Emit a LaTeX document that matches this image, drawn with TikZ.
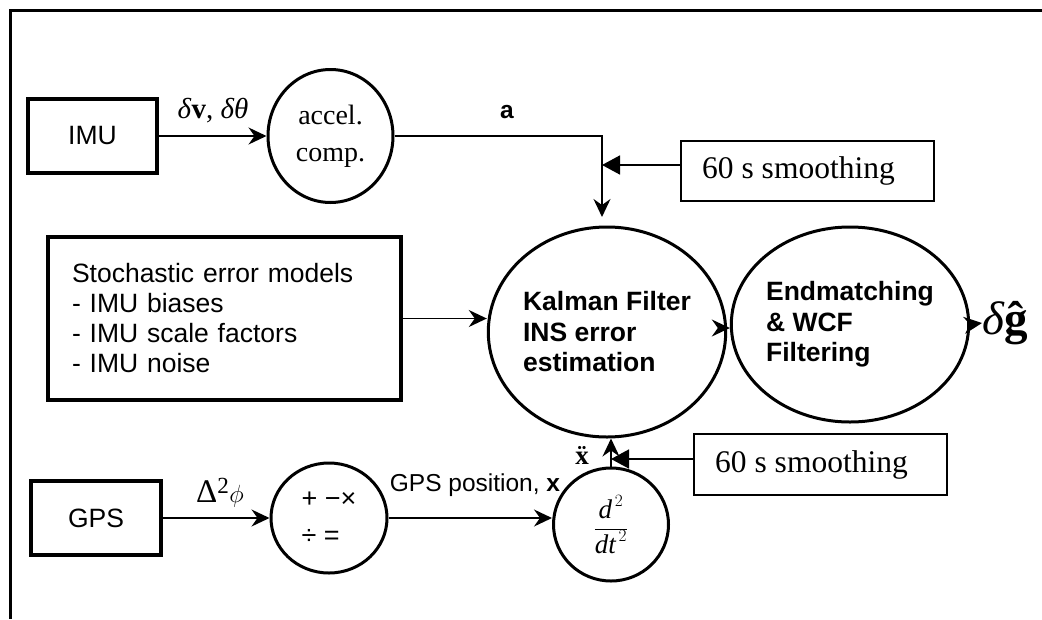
\documentclass[tikz,border=0pt]{standalone}
\usepackage{fontspec}
\setmainfont{Liberation Serif}
\setsansfont{Liberation Sans}
\usetikzlibrary{shapes.geometric,arrows.meta,calc}
\begin{document}
\begin{tikzpicture}[x=1pt,y=-1pt,
  boxA/.style={draw, line width=3.2pt, rectangle, inner sep=0pt, font=\sffamily\fontsize{26.5}{30}\selectfont},
  bub/.style={draw, line width=3pt, ellipse, inner sep=0pt},
  bubtxt/.style={font=\sffamily\bfseries\fontsize{26.5}{30.5}\selectfont, align=left},
  smoothbox/.style={draw, line width=1.8pt, rectangle, inner sep=0pt, minimum width=253pt, font=\fontsize{31.5}{36}\selectfont},
  conn/.style={line width=1.6pt},
  arr/.style={conn, -{Stealth[length=18pt,width=17pt,inset=6pt]}},
  tri/.style={conn, -{Triangle[length=18pt,width=19pt]}},
  lbl/.style={inner sep=0pt}
]
\useasboundingbox (0,0) rectangle (1042,619);
\draw[line width=3pt] (1042,10) -- (10,10) -- (10,619);

% nodes
\node[boxA, minimum width=129pt, minimum height=74pt] (imu) at (92.5,136) {IMU};
\node[bub, minimum width=125pt, minimum height=133pt, align=center, font=\fontsize{28}{37}\selectfont] (acc) at (330.5,136) {accel.\\comp.};
\node[boxA, minimum width=353pt, minimum height=163pt, align=left, text width=305pt] (stoch) at (224.5,318.5) {Stochastic error models\\- IMU biases\\- IMU scale factors\\- IMU noise};
\node[bub, bubtxt, minimum width=230pt, minimum height=210pt] (kal) at (607,332) {Kalman Filter\\INS error\\estimation};
\node[bub, bubtxt, minimum width=210pt, minimum height=195pt] (end) at (850,324.5) {Endmatching\\\& WCF\\Filtering};
\node[lbl, anchor=west, font=\fontsize{47}{47}\selectfont] (dg) at (982,323) {\textit{δ}\textbf{ĝ}};
\node[smoothbox, minimum height=60pt] (sm1) at (807.5,171) {60 s smoothing\hspace*{18pt}};
\node[smoothbox, minimum height=61pt] (sm2) at (820.5,464.5) {60 s smoothing\hspace*{18pt}};
\node[boxA, minimum width=130pt, minimum height=74pt] (gps) at (96,518) {GPS};
\node[bub, minimum width=116pt, minimum height=110pt, align=left, font=\sffamily\fontsize{27}{37}\selectfont] (ops) at (329,518) {+ −×\\÷ =};
\node[bub, minimum width=115pt, minimum height=113pt, font=\fontsize{27}{30}\selectfont] (d2) at (611,524.5) {$\displaystyle\frac{\mbox{\itshape d}^{\,2}}{\mbox{\itshape dt}^{\,2}}$};

% labels
\node[lbl, font=\fontsize{29}{29}\selectfont] (lv) at (213,111) {\textit{δ}\textbf{v}, \textit{δθ}};
\node[lbl, font=\sffamily\bfseries\fontsize{24.5}{24.5}\selectfont] (la) at (507,112) {a};
\node[lbl, font=\fontsize{33}{33}\selectfont] (lphi) at (220,493) {Δ\textsuperscript{2}$\phi$};
\node[lbl, font=\sffamily\fontsize{24.5}{24.5}\selectfont] (lx) at (475,485) {GPS position, \textbf{x}};
\node[lbl, font=\bfseries\fontsize{27}{27}\selectfont] (lxdd) at (582,455) {\"x};

% connectors
\coordinate (c2) at (602,217);
\coordinate (j1) at (602,165);
\coordinate (j2) at (611,459);
\draw[arr] (imu) -- (acc);
\draw[arr] (acc.east) -| (c2);
\draw[tri] (sm1.west |- j1) -- (j1);
\draw[arr] (stoch.east) -- (stoch.east -| kal.west);
\draw[arr] ($(kal.east)+(0,-4)$) -- ($(end.west)+(0,3.5)$);
\draw[arr] (end.east) -- (dg.west);
\draw[arr] (gps) -- (ops);
\draw[arr] (ops.east) -- (ops.east -| d2.west);
\draw[arr] (d2.north) -- (d2.north |- kal.south);
\draw[tri] (sm2.west |- j2) -- (j2);
\end{tikzpicture}
\end{document}
